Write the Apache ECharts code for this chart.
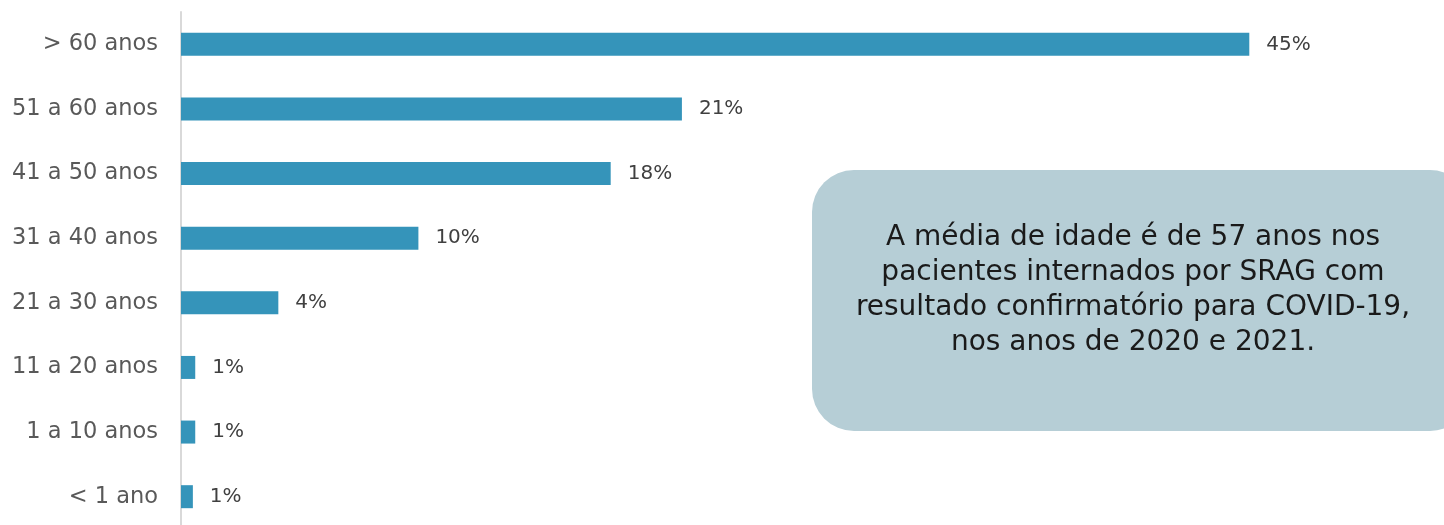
<!DOCTYPE html>
<html>
<head>
<meta charset="utf-8">
<script src="https://cdn.jsdelivr.net/npm/echarts@6/dist/echarts.min.js"></script>
<style>
html,body{margin:0;padding:0;background:#fff;overflow:hidden;}
#chart{width:1444px;height:540px;}
</style>
</head>
<body>
<div id="chart"></div>
<script>
var categories = ['> 60 anos','51 a 60 anos','41 a 50 anos','31 a 40 anos','21 a 30 anos','11 a 20 anos','1 a 10 anos','< 1 ano'];
var values = [45, 21.1, 18.1, 10, 4.1, 0.6, 0.6, 0.5];
var valueLabels = ['45%','21%','18%','10%','4%','1%','1%','1%'];
var noteText = 'A média de idade é de 57 anos nos\npacientes internados por SRAG com\nresultado confirmatório para COVID-19,\nnos anos de 2020 e 2021.';

var font = 'DejaVu Sans';
var chart = echarts.init(document.getElementById('chart'));
chart.setOption({
  animation: false,
  grid: {left: 181, width: 1187, top: 12, height: 517, containLabel: false},
  xAxis: {type: 'value', min: 0, max: 50, show: false},
  yAxis: {
    type: 'category', data: categories, inverse: true,
    axisLine: {show: true, lineStyle: {color: '#d9d9d9', width: 2}},
    axisTick: {show: false},
    axisLabel: {color: '#595959', fontSize: 22.5, fontFamily: font, margin: 23}
  },
  series: [{
    type: 'bar',
    data: values,
    barWidth: 23,
    itemStyle: {color: '#3594BA'},
    label: {
      show: true, position: 'right', distance: 17,
      color: '#404040', fontSize: 20, fontFamily: font,
      formatter: function (p) { return valueLabels[p.dataIndex]; }
    }
  }],
  graphic: [{
    type: 'group',
    children: [{
      type: 'rect',
      shape: {x: 812, y: 170, width: 660, height: 261, r: 42},
      style: {fill: '#B6CED6'}
    }, {
      type: 'text',
      x: 1133, y: 290,
      style: {
        text: noteText, fill: '#1a1a1a', fontSize: 28, fontFamily: font,
        align: 'center', verticalAlign: 'middle', lineHeight: 35
      }
    }]
  }]
});
</script>
</body>
</html>
